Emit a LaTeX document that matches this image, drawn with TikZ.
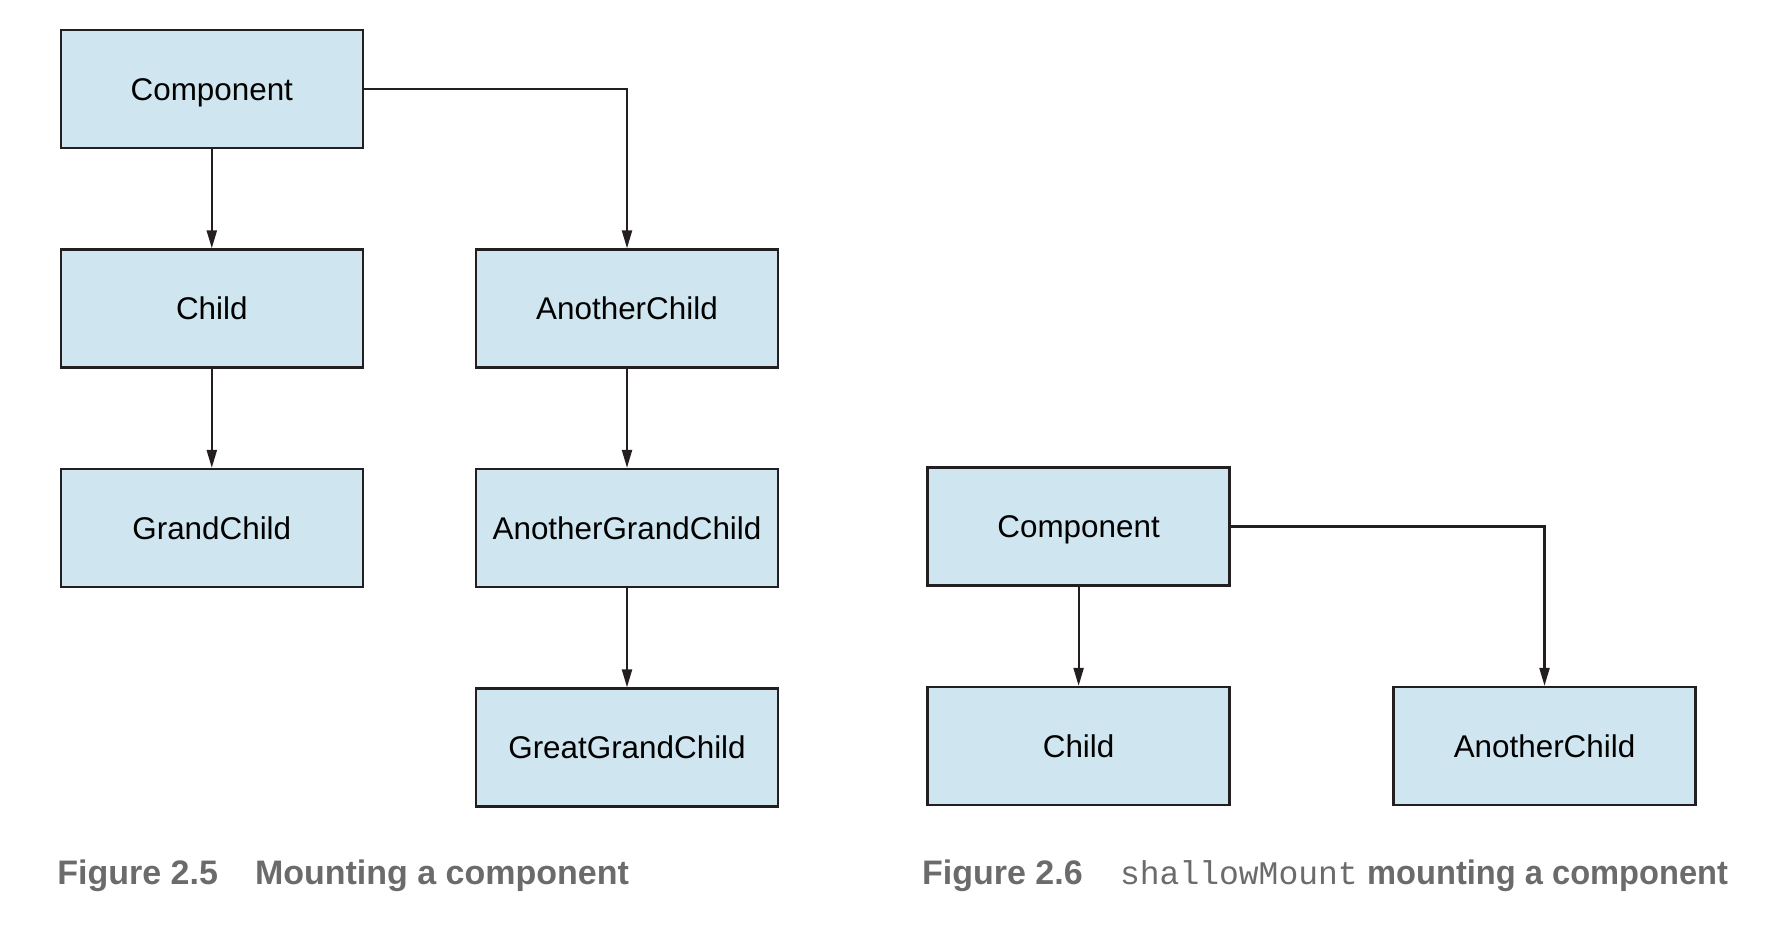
\documentclass[tikz,border=0pt]{standalone}
\usepackage{fontspec}
\setmainfont{Liberation Sans}
\newfontfamily\codefont{Liberation Mono}
\usetikzlibrary{arrows.meta}

\definecolor{boxfill}{RGB}{207,230,240}
\definecolor{boxline}{RGB}{35,31,32}
\definecolor{captiongray}{RGB}{107,107,107}

\begin{document}
\begin{tikzpicture}[x=0.5pt,y=-0.5pt,
  box/.style={draw=boxline, line width=1.15pt, fill=boxfill,
    minimum width=151pt, minimum height=59pt, inner sep=0pt,
    text height=11.3pt, text depth=0pt, font=\fontsize{15.7}{19}\selectfont},
  link/.style={draw=boxline, line width=1.1pt, -{Triangle[length=9pt,width=5pt]}},
  caption/.style={anchor=base west, inner sep=0pt, text=captiongray,
    font=\fontsize{17}{20}\selectfont\bfseries}]
\useasboundingbox (0,0) rectangle (1782,936);

%Shape: Rectangle [left tree]
\node[box] (comp) at (211.8,89) {Component};
\node[box] (child) at (211.8,308.5) {Child};
\node[box] (grand) at (211.8,528) {GrandChild};
\node[box] (another) at (627,308.5) {AnotherChild};
\node[box] (anothergrand) at (627,528) {AnotherGrandChild};
\node[box] (greatgrand) at (627,747.5) {GreatGrandChild};

%Shape: Rectangle [right tree]
\node[box] (compb) at (1078.6,526.5) {Component};
\node[box] (childb) at (1078.6,746) {Child};
\node[box] (anotherb) at (1544.5,746) {AnotherChild};

%Straight Lines
\draw[link] (comp) -- (child);
\draw[link] (child) -- (grand);
\draw[link] (comp.east) -| (another.north);
\draw[link] (another) -- (anothergrand);
\draw[link] (anothergrand) -- (greatgrand);
\draw[link] (compb) -- (childb);
\draw[link] (compb.east) -| (anotherb.north);

% Text Node
\node[caption] (capa) at (57,884) {Figure 2.5\hspace{18.5pt}Mounting a component};
% Text Node
\node[caption] (capb) at (921.7,884) {Figure 2.6\hspace{18.7pt}{\codefont\mdseries\fontsize{16.5}{20}\selectfont shallowMount} \scalebox{0.96}[1]{mounting a component}};

\end{tikzpicture}
\end{document}
